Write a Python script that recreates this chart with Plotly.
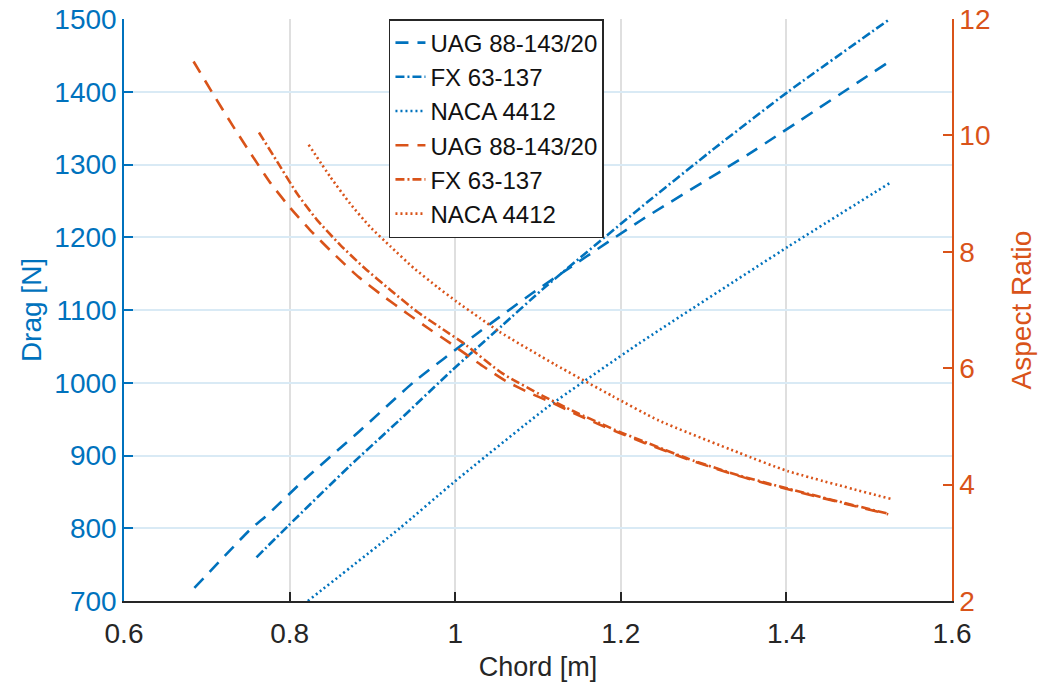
import plotly.graph_objects as go

# ---------------- data ----------------
series_names = ["UAG 88-143/20", "FX 63-137", "NACA 4412"]

# Drag [N] vs chord [m]
drag_uag_chord = [0.685, 0.754, 0.770, 0.818, 0.884, 0.951, 1.021, 1.093, 1.224, 1.354, 1.525]
drag_uag = [718, 800, 815, 867, 933, 1002, 1063, 1123, 1223, 1314, 1442]

drag_fx_chord = [0.760, 0.798, 0.872, 0.933, 0.997, 1.057, 1.105, 1.222, 1.314, 1.402, 1.525]
drag_fx = [760, 803, 885, 949, 1018, 1079, 1128, 1239, 1323, 1400, 1500]

drag_naca_chord = [0.822, 0.933, 0.997, 1.111, 1.222, 1.402, 1.527]
drag_naca = [700, 800, 862, 966, 1054, 1187, 1276]

# Aspect ratio vs chord [m]
ar_uag_chord = [0.684, 0.706, 0.732, 0.753, 0.777, 0.801, 0.825, 0.853, 0.883, 0.913,
                0.942, 0.970, 0.994, 1.035, 1.061, 1.089, 1.117, 1.143, 1.173, 1.198,
                1.228, 1.282, 1.342, 1.402, 1.463, 1.523]
ar_uag = [11.27, 10.75, 10.15, 9.69, 9.18, 8.75, 8.37, 7.97, 7.57, 7.24,
          6.94, 6.66, 6.43, 6.02, 5.78, 5.58, 5.41, 5.23, 5.04, 4.89,
          4.72, 4.43, 4.15, 3.92, 3.70, 3.49]

ar_fx_chord = [0.763, 0.785, 0.809, 0.833, 0.861, 0.889, 0.922, 0.954, 0.986, 1.010,
               1.057, 1.105, 1.143, 1.198, 1.228, 1.282, 1.342, 1.402, 1.463, 1.523]
ar_fx = [10.05, 9.55, 9.00, 8.55, 8.12, 7.74, 7.34, 6.97, 6.66, 6.43,
         5.91, 5.53, 5.26, 4.91, 4.74, 4.44, 4.16, 3.93, 3.71, 3.50]

ar_naca_chord = [0.823, 0.849, 0.873, 0.897, 0.922, 0.950, 0.978, 1.002, 1.030, 1.053,
                 1.121, 1.190, 1.246, 1.342, 1.402, 1.527]
ar_naca = [9.84, 9.29, 8.83, 8.43, 8.09, 7.72, 7.40, 7.14, 6.86, 6.63,
           6.06, 5.52, 5.10, 4.55, 4.23, 3.75]

x_ticks = [0.6, 0.8, 1.0, 1.2, 1.4, 1.6]
x_tick_labels = ["0.6", "0.8", "1", "1.2", "1.4", "1.6"]
drag_ticks = [700, 800, 900, 1000, 1100, 1200, 1300, 1400, 1500]
ar_ticks = [2, 4, 6, 8, 10, 12]

# ---------------- styling ----------------
BLUE = "#0072BD"
ORANGE = "#D95319"
DARK = "#262626"
FONT = "Liberation Sans, Arial, Helvetica, sans-serif"
LW = 2.6
DASH_STYLES = ["13px,9px", "9px,3px,2px,3px", "2px,3px"]

fig = go.Figure()

drag_sets = [(drag_uag_chord, drag_uag), (drag_fx_chord, drag_fx), (drag_naca_chord, drag_naca)]
for name, (cx, cy), dash in zip(series_names, drag_sets, DASH_STYLES):
    fig.add_trace(go.Scatter(x=cx, y=cy, mode="lines", name=name,
                             line=dict(color=BLUE, width=LW, dash=dash, shape="spline", smoothing=0.5),
                             yaxis="y"))

ar_sets = [(ar_uag_chord, ar_uag), (ar_fx_chord, ar_fx), (ar_naca_chord, ar_naca)]
for name, (cx, cy), dash in zip(series_names, ar_sets, DASH_STYLES):
    fig.add_trace(go.Scatter(x=cx, y=cy, mode="lines", name=name,
                             line=dict(color=ORANGE, width=LW, dash=dash, shape="spline", smoothing=0.5),
                             yaxis="y2"))

fig.update_layout(
    width=1047, height=694,
    autosize=False,
    paper_bgcolor="white",
    plot_bgcolor="white",
    margin=dict(l=124, r=95, t=19, b=93, pad=0),
    font=dict(family=FONT, size=28, color=DARK),
    showlegend=True,
    legend=dict(
        x=0.320, y=1.0, xanchor="left", yanchor="top",
        bgcolor="white", bordercolor=DARK, borderwidth=1.5,
        font=dict(family=FONT, size=24, color="#111111"),
        tracegroupgap=0, itemwidth=30,
    ),
    xaxis=dict(
        range=[0.6, 1.6],
        tickvals=x_ticks, ticktext=x_tick_labels,
        showgrid=True, gridcolor="#DFDFDF", gridwidth=1.5,
        showline=True, linecolor=DARK, linewidth=1.5,
        ticks="inside", ticklen=9, tickwidth=1.5, tickcolor=DARK,
        tickfont=dict(family=FONT, size=28, color=DARK),
        ticklabelstandoff=7, ticklabeloverflow="allow",
        title=dict(text="Chord [m]", font=dict(family=FONT, size=27, color=DARK), standoff=9),
        zeroline=False, automargin=False,
    ),
    yaxis=dict(
        range=[700, 1500],
        tickvals=drag_ticks,
        showgrid=True, gridcolor="#D9EAF5", gridwidth=1.5,
        showline=True, linecolor=BLUE, linewidth=1.5,
        ticks="inside", ticklen=9, tickwidth=1.5, tickcolor=BLUE,
        tickfont=dict(family=FONT, size=28, color=BLUE),
        ticklabeloverflow="allow",
        title=dict(text="Drag [N]", font=dict(family=FONT, size=28, color=BLUE), standoff=5),
        zeroline=False, automargin=False,
    ),
    yaxis2=dict(
        range=[2, 12],
        tickvals=ar_ticks,
        overlaying="y", side="right", anchor="x",
        showgrid=False,
        showline=True, linecolor=ORANGE, linewidth=1.5,
        ticks="inside", ticklen=9, tickwidth=1.5, tickcolor=ORANGE,
        tickfont=dict(family=FONT, size=28, color=ORANGE),
        ticklabeloverflow="allow",
        title=dict(text="Aspect Ratio", font=dict(family=FONT, size=28, color=ORANGE), standoff=22),
        zeroline=False, automargin=False,
    ),
)

# remove the browser's default 8px page margin so the figure sits at the window origin
fig.write_html("out.html",
               config={"displayModeBar": False},
               post_script="document.body.style.margin='0px';")
